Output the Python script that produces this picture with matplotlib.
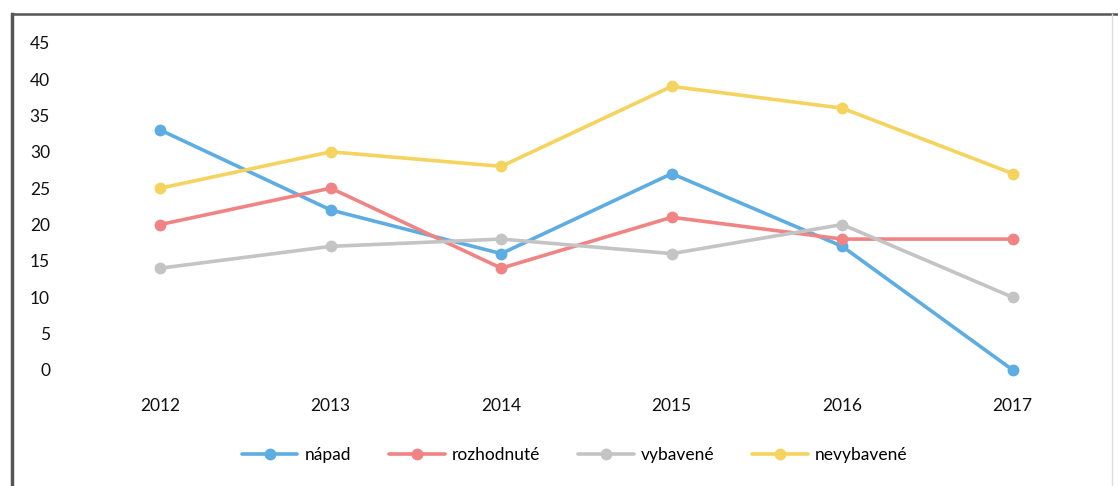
# Line chart of four case categories, 2012-2017
import matplotlib.pyplot as plt
from matplotlib.lines import Line2D

plt.rcParams['font.family'] = ['Lato', 'DejaVu Sans']

roky = ['2012', '2013', '2014', '2015', '2016', '2017']
napad = [33, 22, 16, 27, 17, 0]
rozhodnute = [20, 25, 14, 21, 18, 18]
vybavene = [14, 17, 18, 16, 20, 10]
nevybavene = [25, 30, 28, 39, 36, 27]

serie = [
    ('nápad', napad, '#5dade2'),
    ('rozhodnuté', rozhodnute, '#f08484'),
    ('vybavené', vybavene, '#c4c4c4'),
    ('nevybavené', nevybavene, '#f4d35e'),
]

fig = plt.figure(figsize=(11.18, 4.86), dpi=100)
ax = fig.add_axes([0.0671, 0.2387, 0.915, 0.6734])

x = list(range(len(roky)))
for nazov, hodnoty, farba in serie:
    ax.plot(x, hodnoty, color=farba, lw=2.6, marker='o', markersize=7.5,
            markerfacecolor=farba, markeredgecolor=farba, label=nazov,
            solid_capstyle='round', clip_on=False)

ax.set_xlim(-0.5, len(roky) - 0.5)
ax.set_ylim(0, 45)
ax.set_yticks(range(0, 46, 5))
ax.set_xticks(x)
ax.set_xticklabels(roky)
ax.tick_params(axis='both', length=0, labelsize=12.5, labelcolor='#111111')
ax.tick_params(axis='y', pad=18)
ax.tick_params(axis='x', pad=20)
for s in ax.spines.values():
    s.set_visible(False)
ax.set_facecolor('none')

# legend below the chart
ax.legend(loc='center', bbox_to_anchor=(0.514, 0.064), bbox_transform=fig.transFigure,
          ncol=4, frameon=False, fontsize=12.5, handlelength=3.2, columnspacing=2.2,
          handletextpad=0.4)

# chart frame (left dark edge, top line, light right edge)
fig.add_artist(Line2D([0.011, 0.011], [0, 0.972], color='#555555', lw=2.5))
fig.add_artist(Line2D([0.011, 1.0], [0.972, 0.972], color='#555555', lw=1.8))
fig.add_artist(Line2D([0.995, 0.995], [0, 0.972], color='#dddddd', lw=1))

fig.savefig('out.png', dpi=100)
